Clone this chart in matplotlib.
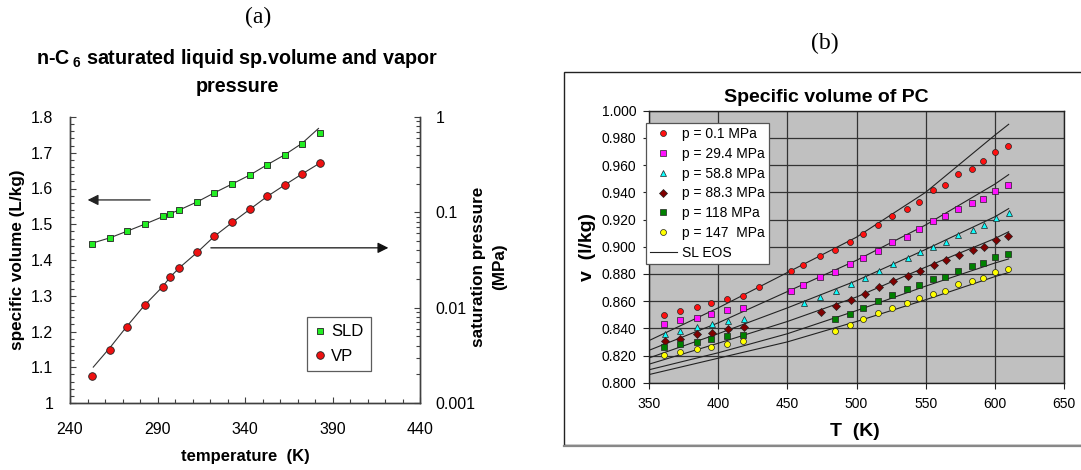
import matplotlib
matplotlib.use('Agg')
import matplotlib.pyplot as plt
from matplotlib.patches import Rectangle
from matplotlib.lines import Line2D
from matplotlib.ticker import MultipleLocator, FixedLocator, NullFormatter, LogLocator, FixedFormatter

plt.rcParams['font.family'] = ['Liberation Sans', 'DejaVu Sans']
plt.rcParams['mathtext.fontset'] = 'custom'
plt.rcParams['mathtext.rm'] = 'Liberation Sans'
plt.rcParams['mathtext.bf'] = 'Liberation Sans:bold'

# ---------------- Panel (a) data ----------------
t_a = [252.4, 262.8, 272.3, 282.6, 292.9, 297.4, 302.5, 312.8, 322.5, 332.8, 342.9, 352.5, 362.6, 372.5, 382.6]
sld = [1.444, 1.461, 1.480, 1.500, 1.522, 1.530, 1.540, 1.563, 1.588, 1.613, 1.638, 1.666, 1.693, 1.724, 1.756]
vp = [0.00193, 0.00360, 0.00621, 0.0106, 0.0166, 0.0211, 0.0262, 0.0382, 0.0561, 0.0785,
      0.109, 0.147, 0.195, 0.255, 0.329]
t_fit_a = [253.3, 262.8, 272.3, 282.6, 292.9, 297.4, 302.5, 312.8, 322.5, 332.8, 342.9, 352.5, 362.6, 372.5, 382.0]
sld_fit = [1.448, 1.462, 1.480, 1.500, 1.521, 1.530, 1.540, 1.563, 1.588, 1.613, 1.638, 1.666, 1.694, 1.726, 1.768]
vp_fit = [0.00238, 0.00380, 0.00630, 0.0106, 0.0166, 0.0211, 0.0262, 0.0382, 0.0561, 0.0785,
          0.108, 0.146, 0.193, 0.252, 0.322]
xticks_a = [240, 290, 340, 390, 440]
yticks_a = [1.0, 1.1, 1.2, 1.3, 1.4, 1.5, 1.6, 1.7, 1.8]
ylabels_a = ['1', '1.1', '1.2', '1.3', '1.4', '1.5', '1.6', '1.7', '1.8']
rticks_a = [0.001, 0.01, 0.1, 1]
rlabels_a = ['0.001', '0.01', '0.1', '1']

# ---------------- Panel (b) data ----------------
t_p01 = [360.8, 372.2, 384.5, 394.8, 406.4, 418.0, 429.5, 452.4, 461.6, 473.4, 484.7, 495.1, 504.7,
         515.8, 525.4, 536.5, 545.4, 555.1, 563.7, 573.4, 583.3, 591.4, 600.1, 609.3]
v_p01 = [0.8498, 0.8528, 0.8557, 0.8584, 0.8616, 0.8640, 0.8706, 0.8823, 0.8862, 0.8928, 0.8979, 0.9033,
         0.9094, 0.9158, 0.9224, 0.9280, 0.9329, 0.9414, 0.9456, 0.9534, 0.9575, 0.9627, 0.9693, 0.9744]
t_p29 = [360.8, 372.2, 384.5, 394.8, 406.4, 418.0, 452.4, 461.6, 473.4, 484.7, 495.1, 504.7,
         515.8, 525.4, 536.5, 545.4, 555.1, 563.7, 573.4, 583.3, 591.4, 600.1, 609.3]
v_p29 = [0.8435, 0.8459, 0.8479, 0.8508, 0.8532, 0.8552, 0.8677, 0.8718, 0.8774, 0.8816, 0.8872, 0.8916,
         0.8970, 0.9033, 0.9075, 0.9131, 0.9190, 0.9224, 0.9275, 0.9324, 0.9353, 0.9409, 0.9453]
t_p59 = [361.3, 372.5, 384.8, 395.4, 407.2, 418.5, 462.3, 473.9, 485.4, 495.8, 505.9, 516.5, 526.4,
         537.3, 546.2, 555.6, 564.6, 573.7, 584.1, 592.3, 600.7, 610.1]
v_p59 = [0.8359, 0.8383, 0.8408, 0.8435, 0.8452, 0.8471, 0.8589, 0.8633, 0.8677, 0.8723, 0.8769, 0.8821,
         0.8872, 0.8916, 0.8960, 0.9001, 0.9038, 0.9087, 0.9124, 0.9158, 0.9209, 0.9248]
t_p88 = [361.3, 372.5, 384.8, 395.4, 407.2, 418.5, 474.1, 485.4, 495.8, 505.9, 516.5, 526.4,
         537.3, 546.2, 556.1, 564.6, 574.0, 584.1, 592.3, 600.7, 609.4]
v_p88 = [0.8305, 0.8322, 0.8357, 0.8366, 0.8396, 0.8410, 0.8523, 0.8567, 0.8606, 0.8650, 0.8701, 0.8750,
         0.8787, 0.8821, 0.8865, 0.8904, 0.8936, 0.8977, 0.9001, 0.9048, 0.9082]
t_p118 = [360.8, 372.2, 384.5, 394.8, 406.4, 418.0, 484.7, 495.1, 504.7, 515.8, 525.4, 536.5, 545.4,
          555.1, 563.7, 573.4, 583.3, 591.4, 600.1, 609.3]
v_p118 = [0.8261, 0.8281, 0.8300, 0.8318, 0.8342, 0.8354, 0.8471, 0.8508, 0.8550, 0.8601, 0.8645, 0.8686,
          0.8718, 0.8760, 0.8779, 0.8823, 0.8860, 0.8877, 0.8921, 0.8945]
t_p147 = [360.8, 372.2, 384.5, 394.8, 406.4, 418.0, 484.7, 495.1, 504.7, 515.8, 525.4, 536.5, 545.4,
          555.1, 563.7, 573.4, 583.3, 591.4, 600.1, 609.3]
v_p147 = [0.8203, 0.8227, 0.8249, 0.8264, 0.8281, 0.8303, 0.8379, 0.8425, 0.8467, 0.8515, 0.8552, 0.8584,
          0.8620, 0.8652, 0.8674, 0.8725, 0.8750, 0.8769, 0.8813, 0.8838]

t_eos = [348, 400, 450, 500, 550, 600, 610]
eos_p01 = [0.830, 0.855, 0.881, 0.907, 0.940, 0.982, 0.990]
eos_p29 = [0.823, 0.844, 0.867, 0.890, 0.916, 0.946, 0.953]
eos_p59 = [0.8175, 0.836, 0.855, 0.875, 0.898, 0.922, 0.928]
eos_p88 = [0.813, 0.829, 0.845, 0.863, 0.885, 0.906, 0.911]
eos_p118 = [0.809, 0.822, 0.836, 0.853, 0.871, 0.888, 0.891]
eos_p147 = [0.8055, 0.818, 0.830, 0.845, 0.861, 0.878, 0.881]

labels_b = ['p = 0.1 MPa', 'p = 29.4 MPa', 'p = 58.8 MPa', 'p = 88.3 MPa', 'p = 118 MPa',
            'p = 147  MPa', 'SL EOS']

W, H = 1081, 470
fig = plt.figure(figsize=(W / 100, H / 100), dpi=100)


def fx(px):
    return px / W


def fy(py):
    return 1 - py / H


# ================= Panel (a) =================
axc = '#404040'
ax1 = fig.add_axes([fx(70), fy(403), fx(350), 286 / H])
ax2 = ax1.twinx()
ax1.set_xlim(240, 440)
ax1.set_ylim(1.0, 1.8)
ax2.set_yscale('log')
ax2.set_ylim(0.001, 1)

for ax in (ax1, ax2):
    ax.spines['top'].set_visible(False)
    for s in ('left', 'right', 'bottom'):
        ax.spines[s].set_color(axc)
        ax.spines[s].set_linewidth(1.0)
ax1.xaxis.set_major_locator(FixedLocator(xticks_a))
ax1.xaxis.set_minor_locator(MultipleLocator(10))
ax1.yaxis.set_major_locator(FixedLocator(yticks_a))
ax1.yaxis.set_major_formatter(FixedFormatter(ylabels_a))
ax1.yaxis.set_minor_locator(MultipleLocator(0.02))
ax1.tick_params(which='both', direction='in', colors=axc, labelcolor='black', labelsize=11.5)
ax1.tick_params(which='major', length=4, width=0.8)
ax1.tick_params(which='minor', length=3, width=0.8)
ax1.tick_params(axis='x', pad=14)
ax1.tick_params(axis='y', pad=12)
ax2.yaxis.set_major_locator(FixedLocator(rticks_a))
ax2.yaxis.set_major_formatter(FixedFormatter(rlabels_a))
ax2.yaxis.set_minor_locator(LogLocator(base=10, subs=range(2, 10)))
ax2.yaxis.set_minor_formatter(NullFormatter())
ax2.tick_params(which='both', direction='in', colors=axc, labelcolor='black', labelsize=11.5, pad=11)
ax2.tick_params(which='major', length=4, width=0.8)
ax2.tick_params(which='minor', length=3, width=0.8)

ax1.plot(t_fit_a, sld_fit, color='#333333', lw=0.8, zorder=2)
ax1.plot(t_a, sld, ls='none', marker='s', ms=5, mfc='#22ee22', mec='#222222', mew=0.6, zorder=3)
ax2.plot(t_fit_a, vp_fit, color='#333333', lw=0.8, zorder=2)
ax2.plot(t_a, vp, ls='none', marker='o', ms=5.5, mfc='#ee1111', mec='#222222', mew=0.6, zorder=3)

ax1.annotate('', xy=(248.5, 1.568), xytext=(287.4, 1.568),
             arrowprops=dict(arrowstyle='-|>', color='#222222', lw=0.9, mutation_scale=16))
ax1.annotate('', xy=(423.5, 1.434), xytext=(318.9, 1.434), annotation_clip=False,
             arrowprops=dict(arrowstyle='-|>', color='#111111', lw=0.9, mutation_scale=16))

ax1.set_xlabel('temperature  (K)', fontsize=12, fontweight='bold', labelpad=8)
ax1.set_ylabel('specific volume (L/kg)', fontsize=12.3, fontweight='bold', labelpad=4)

h_sld = Line2D([], [], ls='none', marker='s', ms=5, mfc='#22ee22', mec='#222222', mew=0.6)
h_vp = Line2D([], [], ls='none', marker='o', ms=5.5, mfc='#ee1111', mec='#222222', mew=0.6)
leg_a = ax1.legend([h_sld, h_vp], ['SLD', 'VP'], loc='upper left',
                   bbox_to_anchor=((307 - 70) / 350, (403 - 317) / 286), borderaxespad=0,
                   fontsize=12, frameon=True, fancybox=False, edgecolor='#333333',
                   handlelength=0.6, handletextpad=0.4, borderpad=0.45, labelspacing=0.55)
leg_a.get_frame().set_linewidth(0.9)

fig.text(fx(237), fy(58), r'n-C$\,_{\mathbf{6}}$ saturated liquid sp.volume and vapor',
         ha='center', va='center', fontsize=14.2, fontweight='bold')
fig.text(fx(237), fy(87), 'pressure', ha='center', va='center', fontsize=14.2, fontweight='bold')
fig.text(fx(489), fy(267), 'saturation pressure\n(MPa)', rotation=90, ha='center', va='center',
         multialignment='center', fontsize=12.3, fontweight='bold', linespacing=1.45)
fig.text(fx(258), fy(17), '(a)', ha='center', va='center', fontsize=17,
         family=['Liberation Serif', 'DejaVu Serif'])

# ================= Panel (b) =================
frame = Rectangle((fx(564), fy(445)), fx(1200 - 564), (445 - 72) / H, transform=fig.transFigure,
                  facecolor='none', edgecolor='#222222', lw=1.0, zorder=0)
fig.add_artist(frame)
fig.add_artist(Line2D([fx(564), 1.0], [fy(445.5), fy(445.5)], transform=fig.transFigure,
                      color='#888888', lw=1.6))

axb = fig.add_axes([fx(649), fy(382.7), fx(415), 272 / H])
axb.set_facecolor('#c0c0c0')
axb.set_xlim(350, 650)
axb.set_ylim(0.800, 1.000)
axb.xaxis.set_major_locator(MultipleLocator(50))
axb.yaxis.set_major_locator(MultipleLocator(0.02))
axb.yaxis.set_major_formatter(plt.FormatStrFormatter('%.3f'))
axb.grid(True, color='#333333', lw=0.9)
axb.set_axisbelow(True)
for s in axb.spines.values():
    s.set_color('#222222')
    s.set_linewidth(1.0)
axb.tick_params(direction='out', length=4, width=0.8, labelsize=10, colors='#222222',
                labelcolor='black')
axb.tick_params(axis='x', pad=6)
axb.tick_params(axis='y', pad=5)

for ev in (eos_p01, eos_p29, eos_p59, eos_p88, eos_p118, eos_p147):
    axb.plot(t_eos, ev, color='#222222', lw=0.8, zorder=2)

mk = dict(ls='none', mec='#222222', mew=0.5, zorder=3)
series = [
    (t_p01, v_p01, 'o', 4.3, '#ff1010'),
    (t_p29, v_p29, 's', 4.0, '#ff10ff'),
    (t_p59, v_p59, '^', 4.6, '#10ffff'),
    (t_p88, v_p88, 'D', 3.6, '#800000'),
    (t_p118, v_p118, 's', 4.0, '#008000'),
    (t_p147, v_p147, 'o', 4.3, '#ffff00'),
]
handles = []
for t, v, m, ms, c in series:
    axb.plot(t, v, marker=m, ms=ms, mfc=c, **mk)
    handles.append(Line2D([], [], marker=m, ms=ms, mfc=c, ls='none', mec='#222222', mew=0.5))
handles.append(Line2D([], [], color='#222222', lw=0.8))

leg_b = axb.legend(handles, labels_b, loc='upper left',
                   bbox_to_anchor=((646 - 649) / 415, (382.7 - 122.7) / 272), borderaxespad=0,
                   fontsize=10, frameon=True, fancybox=False, edgecolor='#555555',
                   facecolor='white', framealpha=1, handlelength=1.9, handletextpad=0.4,
                   borderpad=0.3, labelspacing=0.42)
leg_b.get_frame().set_linewidth(0.9)

fig.text(fx(826), fy(97), 'Specific volume of PC', ha='center', va='center', fontsize=14,
         fontweight='bold')
fig.text(fx(855), fy(431), 'T  (K)', ha='center', va='center', fontsize=14, fontweight='bold')
fig.text(fx(588), fy(247), 'v  (l/kg)', rotation=90, ha='center', va='center', fontsize=14,
         fontweight='bold')
fig.text(fx(825), fy(43), '(b)', ha='center', va='center', fontsize=17,
         family=['Liberation Serif', 'DejaVu Serif'])

fig.savefig('out.png', dpi=100)
